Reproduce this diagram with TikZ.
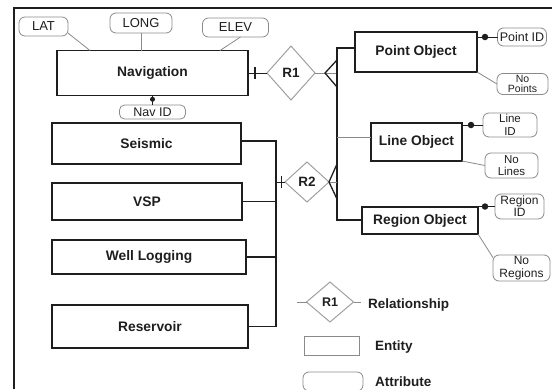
\documentclass[tikz,border=0pt]{standalone}
\usepackage{fontspec}
\setmainfont{Liberation Sans}
\usetikzlibrary{shapes.geometric,calc}
\definecolor{ink}{HTML}{1E1E1E}
\definecolor{soft}{HTML}{8A8A8A}
\definecolor{faint}{HTML}{A0A0A0}

\tikzset{
  entity/.style={draw=ink, line width=1.4pt, inner sep=0pt, outer sep=0pt,
    font=\fontsize{13.8}{15}\selectfont\bfseries, text=ink},
  attr/.style={draw=soft, line width=0.8pt, rounded corners=6pt, inner sep=0pt, outer sep=0pt,
    font=\fontsize{13}{13}\selectfont, text=ink},
  attrtwo/.style={attr, align=center},
  rel/.style={diamond, draw=faint, line width=1pt, inner sep=0pt, outer sep=0pt,
    font=\fontsize{13.5}{15}\selectfont\bfseries, text=ink},
  link/.style={draw=soft, line width=0.8pt},
  bus/.style={draw=ink, line width=1.3pt},
  keydot/.style={circle, fill=ink, inner sep=0pt, minimum size=6.5pt},
  keytext/.style={anchor=west, inner sep=0pt, font=\fontsize{13.5}{15}\selectfont\bfseries, text=ink},
}

\begin{document}
\begin{tikzpicture}[x=1pt, y=-1pt]
\useasboundingbox (0,0) rectangle (552,389);

% outer frame (left and top edges)
\draw[ink, line width=1.8pt] (14,389) -- (14,8) -- (552,8);

% ---- entities ----
\node[entity, minimum width=191pt, minimum height=45pt] (nav)    at (152.5,73)   {Navigation};
\node[entity, minimum width=189pt, minimum height=41pt] (seis)   at (146.5,143.5) {Seismic};
\node[entity, minimum width=190pt, minimum height=37pt] (vsp)    at (147,201.5)  {VSP};
\node[entity, minimum width=194pt, minimum height=34pt] (well)   at (149,257)    {Well Logging};
\node[entity, minimum width=196pt, minimum height=43pt] (res)    at (150,326.5)  {Reservoir};
\node[entity, minimum width=122pt, minimum height=40pt] (point)  at (416,52)     {Point Object};
\node[entity, minimum width=91pt,  minimum height=38pt] (line)   at (416.5,142)  {Line Object};
\node[entity, minimum width=116pt, minimum height=27pt] (region) at (420,220.5)  {Region Object};

% ---- relationships ----
\node[rel, minimum width=48pt, minimum height=54pt] (r1) at (291,73)  {R1};
\node[rel, minimum width=44pt, minimum height=40pt] (r2) at (307,182) {R2};

% ---- attributes ----
\node[attr, minimum width=49pt, minimum height=19pt] (lat)   at (43.5,26.5)  {LAT};
\node[attr, minimum width=62pt, minimum height=20pt] (long)  at (141,23)     {LONG};
\node[attr, minimum width=66pt, minimum height=19pt] (elev)  at (235.5,27.5) {ELEV};
\node[attr, minimum width=66pt, minimum height=14pt, rounded corners=5pt, font=\fontsize{12.5}{13}\selectfont] (navid) at (152.5,112) {Nav ID};
\node[attr, minimum width=49pt, minimum height=18pt, font=\fontsize{12.5}{13}\selectfont] (pid)   at (522,37)     {Point ID};
\node[attrtwo, minimum width=51pt, minimum height=21pt, font=\fontsize{10.5}{10}\selectfont] (npts) at (522.5,84) {No\\Points};
\node[attrtwo, minimum width=54pt, minimum height=24pt, font=\fontsize{11.5}{12.5}\selectfont] (lid)  at (510,125)   {Line\\ID};
\node[attrtwo, minimum width=53pt, minimum height=25pt, font=\fontsize{11.5}{12.5}\selectfont] (nlin) at (511.5,165.5) {No\\Lines};
\node[attrtwo, minimum width=49pt, minimum height=25pt, font=\fontsize{12}{12}\selectfont] (rid)  at (519.5,206.5) {Region\\ID};
\node[attrtwo, minimum width=57pt, minimum height=26pt, font=\fontsize{12}{12.5}\selectfont] (nreg) at (521.5,268) {No\\Regions};

% ---- attribute links ----
\draw[link] (lat.-15) -- ([xshift=33pt]nav.north west);
\draw[link] (long.south) -- (long.south |- nav.north);
\draw[link] ([xshift=5pt]elev.south) -- ([xshift=-28pt]nav.north east);
\draw[ink, line width=0.8pt] (nav.south) -- (navid.north);
\node[keydot, minimum size=5pt] (navdot) at ($(nav.south)!0.4!(navid.north)$) {};

\draw[ink, line width=0.8pt] (point.east |- pid.west) -- (pid.west);
\node[keydot] (pdot) at ([xshift=8pt]point.east |- pid.west) {};
\draw[link] (point.south east) -- (npts.west);

\draw[ink, line width=0.8pt] (line.east |- lid.west) -- (lid.west);
\node[keydot] (ldot) at ([xshift=9pt]line.east |- lid.west) {};
\draw[link] (line.south east) -- (nlin.west);

\draw[ink, line width=0.8pt] (region.east |- rid.west) -- (rid.west);
\node[keydot] (rdot) at ([xshift=7pt]region.east |- rid.west) {};
\draw[link] (region.south east) -- (nreg.160);

% ---- R1: Navigation (one) to objects (many) ----
\draw[ink, line width=1pt] (nav.east) -- (r1.west);
\draw[ink, line width=1.2pt] ([xshift=7pt]nav.east) ++(0,-6) -- ++(0,12);
\coordinate (c1) at (337,73);
\coordinate (j1) at (337,48);
\coordinate (j2) at (337,137);
\coordinate (j3) at (337,220);
\draw[link] (r1.east) -- (c1);
\draw[bus] (c1) ++(0,-13) -- ++(-12,13) -- ++(12,14);
\draw[bus] (point.west |- j1) -- (j1) -- (j3) -- (region.west |- j3);
\draw[link] (j2) -- (line.west |- j2);

% ---- R2: data sets (one) to objects (many) ----
\coordinate (k) at (337,182);
\draw[link] (r2.east) -- (k);
\draw[bus] (k) ++(0,-18) -- ++(-8,18) -- ++(8,17);
\coordinate (m) at (276,182);
\draw[ink, line width=0.9pt] (m) -- (r2.west);
\draw[ink, line width=1pt] (m) ++(5,-6) -- ++(0,12);
\draw[bus] (seis.east) ++(0,-2.5) coordinate (s1) -- (s1 -| m) -- (res.east -| m) -- (res.east);
\draw[bus] (vsp.east) -- (vsp.east -| m);
\draw[bus] (well.east) -- (well.east -| m);

% ---- legend ----
\node[rel, minimum width=47pt, minimum height=40pt, font=\fontsize{12.5}{14}\selectfont\bfseries] (lr) at (330,302) {R1};
\coordinate (lrl) at (297,302);
\coordinate (lrr) at (361,302);
\draw[link] (lrl) -- (lr.west);
\draw[link] (lr.east) -- (lrr);
\node[keytext] (lrt) at (368,305) {Relationship};
\node[draw=soft, line width=0.8pt, inner sep=0pt, minimum width=55pt, minimum height=19pt] (le) at (331.5,345.5) {};
\node[keytext] (let) at (375,347) {Entity};
\node[attr, minimum width=60pt, minimum height=19pt] (la) at (333,381.5) {};
\node[keytext] (lat2) at (375,381.5) {Attribute};
\end{tikzpicture}
\end{document}
